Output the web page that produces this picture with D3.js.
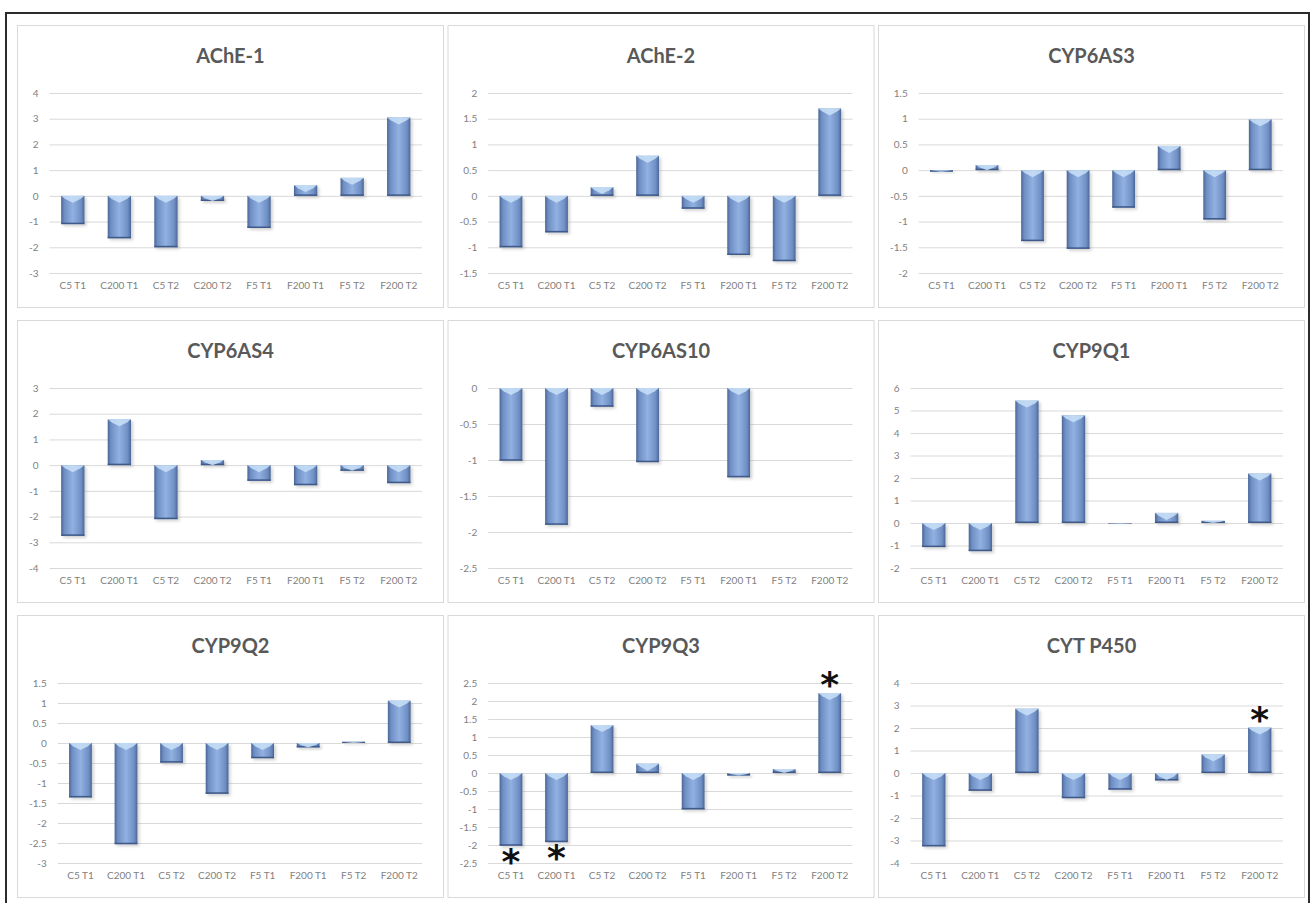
<!DOCTYPE html>
<html>
<head>
<meta charset="utf-8">
<script src="https://cdn.jsdelivr.net/npm/d3@7"></script>
<style>
  body { margin: 0; background: #fff; }
  svg { display: block; font-family: Lato, "Open Sans", sans-serif; }
</style>
</head>
<body>
<div id="chart"></div>
<script>
// categories and values
const categories = ["C5 T1", "C200 T1", "C5 T2", "C200 T2", "F5 T1", "F200 T1", "F5 T2", "F200 T2"];
const genes = ["AChE-1", "AChE-2", "CYP6AS3", "CYP6AS4", "CYP6AS10", "CYP9Q1", "CYP9Q2", "CYP9Q3", "CYT P450"];

const ache1    = [-1.1, -1.65, -2.0, -0.2, -1.25, 0.42, 0.7, 3.05];
const ache2    = [-1.0, -0.71, 0.17, 0.78, -0.25, -1.15, -1.27, 1.70];
const cyp6as3  = [-0.03, 0.1, -1.38, -1.53, -0.73, 0.47, -0.96, 0.99];
const cyp6as4  = [-2.75, 1.78, -2.1, 0.2, -0.61, -0.78, -0.22, -0.7];
const cyp6as10 = [-1.01, -1.9, -0.26, -1.03, 0, -1.24, 0, 0];
const cyp9q1   = [-1.07, -1.25, 5.44, 4.79, -0.02, 0.45, 0.1, 2.2];
const cyp9q2   = [-1.36, -2.53, -0.49, -1.27, -0.38, -0.11, 0.03, 1.06];
const cyp9q3   = [-2.02, -1.92, 1.33, 0.26, -1.01, -0.07, 0.11, 2.22];
const cytp450  = [-3.26, -0.79, 2.86, -1.12, -0.74, -0.33, 0.83, 2.02];
const seriesValues = [ache1, ache2, cyp6as3, cyp6as4, cyp6as10, cyp9q1, cyp9q2, cyp9q3, cytp450];

// y axis ranges per panel
const axisMin  = [-3, -1.5, -2, -4, -2.5, -2, -3, -2.5, -4];
const axisMax  = [4, 2, 1.5, 3, 0, 6, 1.5, 2.5, 4];
const axisStep = [1, 0.5, 0.5, 1, 0.5, 1, 0.5, 0.5, 1];

// significance asterisks
const sigGene = ["CYP9Q3", "CYP9Q3", "CYP9Q3", "CYT P450"];
const sigCat  = ["C5 T1", "C200 T1", "F200 T2", "F200 T2"];

const W = 1314, H = 903;
const panelW = 427, panelH = 283;
const plotTop = 68, plotH = 180, plotRightPad = 22;

const svg = d3.select("#chart").append("svg")
    .attr("width", W).attr("height", H);

const defs = svg.append("defs");
const grad = defs.append("linearGradient").attr("id", "barGrad")
    .attr("x1", "0%").attr("x2", "100%").attr("y1", "0%").attr("y2", "0%");
[["0%", "#4a6698"], ["14%", "#6f8fc4"], ["50%", "#92b1e2"], ["86%", "#6f8fc4"], ["100%", "#4a6698"]]
    .forEach(([o, c]) => grad.append("stop").attr("offset", o).attr("stop-color", c));
const shadow = defs.append("filter").attr("id", "shadow")
    .attr("x", "-20%").attr("y", "-20%").attr("width", "140%").attr("height", "140%");
shadow.append("feGaussianBlur").attr("stdDeviation", 1.5);

svg.append("rect").attr("width", W).attr("height", H).attr("fill", "#fff");

// outer frame
svg.append("path")
    .attr("d", `M6,${H} L6,13 L1309,13 L1309,${H}`)
    .attr("fill", "none").attr("stroke", "#2b2b2b").attr("stroke-width", 2);

const fmt = d => String(+d.toFixed(2));

genes.forEach((gene, gi) => {
    const col = gi % 3, row = Math.floor(gi / 3);
    const px = 17 + col * 430.5, py = 25 + row * 295;
    const g = svg.append("g").attr("transform", `translate(${px},${py})`);
    const values = seriesValues[gi];

    g.append("rect")
        .attr("x", 0.5).attr("y", 0.5)
        .attr("width", panelW - 1).attr("height", panelH - 1)
        .attr("fill", "#fff").attr("stroke", "#d9d9d9");

    g.append("text")
        .attr("x", panelW / 2).attr("y", 38)
        .attr("text-anchor", "middle")
        .attr("font-size", 20).attr("font-weight", "bold")
        .attr("fill", "#595959")
        .text(gene);

    const ticks = d3.range(axisMin[gi], axisMax[gi] + axisStep[gi] / 2, axisStep[gi]);

    // measure widest tick label to place the plot area
    const probe = g.append("text").attr("font-size", 10);
    let maxW = 0;
    ticks.forEach(t => { probe.text(fmt(t)); maxW = Math.max(maxW, probe.node().getComputedTextLength()); });
    probe.remove();
    const plotLeft = 12 + maxW + 11;
    const plotRight = panelW - plotRightPad;

    const y = d3.scaleLinear().domain([axisMin[gi], axisMax[gi]]).range([plotTop + plotH, plotTop]);
    const x = d3.scaleBand().domain(categories).range([plotLeft, plotRight])
        .paddingInner(0.5).paddingOuter(0.25);

    // gridlines + tick labels
    const yAxis = d3.axisLeft(y).tickValues(ticks).tickFormat(fmt)
        .tickSize(-(plotRight - plotLeft)).tickPadding(11);
    const ya = g.append("g").attr("transform", `translate(${plotLeft},0)`).call(yAxis);
    ya.select(".domain").remove();
    ya.selectAll(".tick line").attr("stroke", "#d9d9d9");
    ya.selectAll(".tick text").attr("fill", "#7f7f7f").attr("font-size", 10)
        .attr("font-family", "Lato, sans-serif");

    // category labels
    const xAxis = d3.axisBottom(x).tickSize(0).tickPadding(9);
    const xa = g.append("g").attr("transform", `translate(0,${plotTop + plotH})`).call(xAxis);
    xa.select(".domain").remove();
    xa.selectAll(".tick text").attr("fill", "#7f7f7f").attr("font-size", 10)
        .attr("font-family", "Lato, sans-serif");

    const y0 = y(0);
    const bars = g.append("g").selectAll("g").data(categories.map((c, i) => ({ c, v: values[i] })))
        .join("g");

    const top = d => Math.min(y(d.v), y0);
    const hgt = d => Math.abs(y(d.v) - y0);

    bars.append("rect")
        .attr("x", d => x(d.c) + 2)
        .attr("y", d => top(d) + 2)
        .attr("width", x.bandwidth())
        .attr("height", hgt)
        .attr("fill", "#9a9a9a").attr("opacity", 0.45)
        .attr("filter", "url(#shadow)");

    bars.append("rect")
        .attr("x", d => x(d.c))
        .attr("y", top)
        .attr("width", x.bandwidth())
        .attr("height", hgt)
        .attr("fill", "url(#barGrad)");

    // darker edge along the bottom of each bar
    bars.append("rect")
        .attr("x", d => x(d.c))
        .attr("y", d => top(d) + hgt(d) - Math.min(1.5, hgt(d)))
        .attr("width", x.bandwidth())
        .attr("height", d => Math.min(1.5, hgt(d)))
        .attr("fill", "#3f5a88");

    // light bevel along the top of each bar
    bars.append("path")
        .attr("d", d => {
            const cap = Math.min(7, hgt(d));
            const xl = x(d.c), xr = xl + x.bandwidth(), xm = (xl + xr) / 2;
            const yt = top(d);
            return `M${xl},${yt} L${xr},${yt} L${xr - 4},${yt + cap * 0.45} L${xm},${yt + cap} L${xl + 4},${yt + cap * 0.45} Z`;
        })
        .attr("fill", "#c9e0f8").attr("opacity", 0.85);

    // significance asterisks
    sigGene.forEach((sg, si) => {
        if (sg !== gene) return;
        const idx = categories.indexOf(sigCat[si]);
        const v = values[idx];
        const cy = v >= 0 ? y(v) - 15 : y(v) + 9;
        g.append("text")
            .attr("x", x(sigCat[si]) + x.bandwidth() / 2)
            .attr("y", cy + 19)
            .attr("text-anchor", "middle")
            .attr("font-family", "DejaVu Sans, sans-serif")
            .attr("font-weight", "bold")
            .attr("font-size", 36)
            .attr("fill", "#111")
            .text("*");
    });
});
</script>
</body>
</html>
